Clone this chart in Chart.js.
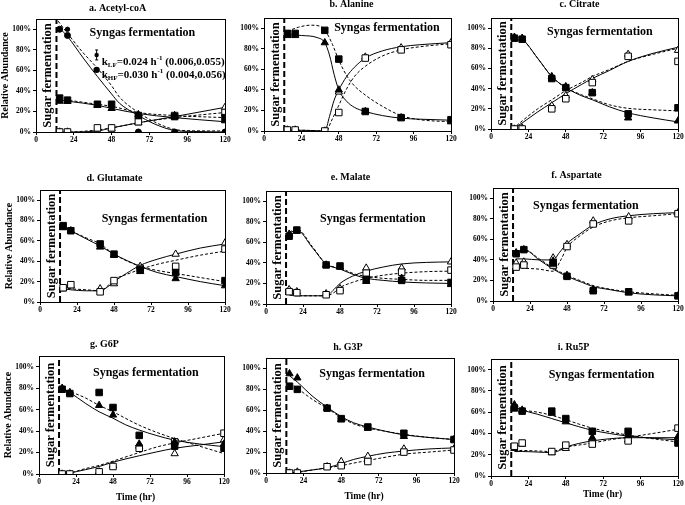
<!DOCTYPE html>
<html>
<head>
<meta charset="utf-8">
<script src="https://cdn.jsdelivr.net/npm/chart.js@4.4.1/dist/chart.umd.min.js"></script>
<style>
  html, body { margin: 0; padding: 0; background: #fff; }
  #fig { position: relative; width: 685px; height: 505px; overflow: hidden; }
  .panel { position: absolute; }
</style>
</head>
<body>
<div id="fig"></div>
<script>
// sampling times (hr) and axis ticks
const times = [15, 20, 39, 48, 65, 88, 120];
const xTicks = [0, 24, 48, 72, 96, 120];
const yTicks = [0, 20, 40, 60, 80, 100];
const switchTime = 13; // sugar -> syngas

// *Pts rows: filled squares, filled triangles, open squares, open triangles (%)
// *Fits rows: LF unlabeled (solid), HF unlabeled (dashed), LF labeled (solid), HF labeled (dashed)
const acetylPts = [
    [33, 31, 27, 27, 16, 15, 14],
    [30, 30, 26, 23, 17, 16, 11],
    [0, 0, 4, 4, 10, 16, 19],
    [0, 0, 3, 3, 9, 15, 24]
];
const acetylFits = [
    [[15, 31], [20, 30], [39, 26], [48, 23], [65, 18], [88, 14], [120, 10]],
    [[15, 32], [20, 31], [39, 27], [48, 25], [65, 19], [88, 16], [120, 14]],
    [[15, 0], [20, 0], [39, 1], [48, 4], [65, 9], [88, 15], [120, 24]],
    [[15, 0], [20, 0], [39, 2], [48, 4], [65, 9], [88, 14], [120, 19]]
];
// acetyl-coA M+0 pool: LF (small circles) and HF (large circles)
const acetylCircles = [
    [100, 100, null, null, 0, 0, 0],
    [100, 94, null, null, 0, 0, 0]
];
const acetylCircleFits = [
    [[15, 101], [20, 93], [30, 72], [39, 54], [48, 37], [53, 28], [64, 17], [75, 8], [88, 1.5], [100, 0.5], [120, 0]],
    [[14, 108], [20, 96], [30, 77], [39, 62], [48, 45], [53, 34], [64, 20], [75, 10], [88, 2.5], [100, 1.2], [120, 1]]
];
const rateNames = ['LF', 'HF'];
const rateValues = ['0.024', '0.030'];
const rateRanges = ['(0.006,0.055)', '(0.004,0.056)'];

const alaninePts = [
    [95, 95, 98, 70, 19, 13, 11],
    [93, 93, 86, 40, 19, 13, 9],
    [1, 1, 0, 18, 71, 79, 84],
    [1, 1, 0, 38, 72, 81, 86]
];
const alanineFits = [
    [[15, 94], [24, 93], [34, 91], [39, 86], [42, 74], [45, 55], [48, 40], [53, 29], [58, 23], [65, 19], [76, 15], [88, 12.5], [100, 11.5], [120, 10.5]],
    [[15, 97], [22, 101], [30, 103], [36, 102], [40, 96], [44, 84], [48, 69], [53, 54], [58, 44], [65, 35], [76, 24], [88, 15], [100, 11], [120, 9]],
    [[15, 1], [30, 0.5], [39, 0], [42, 14], [45, 30], [48, 40], [53, 53], [58, 62], [65, 71], [76, 78], [88, 82], [100, 84], [120, 86]],
    [[15, 1], [30, 0.5], [40, 0], [43, 9], [48, 25], [53, 41], [58, 53], [65, 63], [76, 73], [88, 79], [100, 82], [120, 85]]
];

const citratePts = [
    [90, 89, 50, 41, 36, 15, 21],
    [91, 90, 52, 42, 36, 11, 8],
    [0, 0, 20, 30, 46, 72, 67],
    [0, 1, 23, 33, 49, 74, 78]
];
const citrateFits = [
    [[15, 91], [20, 89], [30, 70], [39, 52], [48, 41], [58, 33], [65, 29], [76, 22], [88, 16], [104, 11], [120, 7]],
    [[15, 91], [20, 89], [30, 70], [39, 52], [48, 41], [58, 34], [65, 30], [76, 24], [88, 20.5], [104, 19], [120, 18]],
    [[14, 0], [20, 6], [30, 17], [39, 26], [48, 35], [58, 44], [65, 50], [76, 58], [88, 67], [104, 75], [120, 81]],
    [[14, 0], [20, 8], [30, 20], [39, 29], [48, 38], [58, 46], [65, 52], [76, 59], [88, 67], [104, 74], [120, 80]]
];

const glutamatePts = [
    [75, 70, 57, 47, 32, 29, 21],
    [73, 70, 54, 46, 30, 23, 16],
    [14, 17, 10, 21, 33, 35, 52],
    [13, 16, 13, 18, 35, 47, 58]
];
const glutamateFits = [
    [[15, 74], [20, 70], [30, 62], [39, 55], [48, 47], [65, 35], [76, 29], [88, 25], [104, 20], [120, 16]],
    [[15, 75], [20, 70], [30, 63], [39, 57], [48, 47], [65, 35], [76, 31], [88, 28], [104, 24], [120, 20]],
    [[15, 13], [20, 12], [30, 11], [39, 11], [44, 15], [48, 20], [56, 28], [65, 36], [76, 42], [88, 47], [104, 53], [120, 57]],
    [[15, 14], [20, 13], [30, 12], [39, 11], [44, 16], [48, 22], [56, 27], [65, 32], [76, 37], [88, 41], [104, 46], [120, 50]]
];

const malatePts = [
    [66, 72, 38, 37, 24, 23, 21],
    [68, 71, 38, 36, 22, 25, 19],
    [12, 11, 9, 13, 30, 31, 33],
    [14, 12, 10, 15, 35, 35, 41]
];
const malateFits = [
    [[15, 69], [20, 72], [30, 55], [39, 39], [48, 34], [58, 28], [65, 25], [76, 23], [88, 21.5], [104, 20.5], [120, 20]],
    [[15, 70], [20, 73], [30, 56], [39, 39], [48, 35], [58, 29], [65, 27], [76, 25], [88, 24], [104, 23], [120, 23]],
    [[15, 9], [20, 8], [30, 8], [39, 8], [44, 14], [48, 20], [56, 27], [65, 32], [76, 36], [88, 39], [104, 40.5], [120, 41]],
    [[15, 9], [20, 8], [30, 8], [39, 8], [44, 11], [48, 16], [56, 21], [65, 25], [76, 28], [88, 30], [104, 31.5], [120, 32]]
];

const aspartatePts = [
    [46, 50, 37, 24, 10, 9, 5],
    [47, 50, 39, 25, 11, 8, 5],
    [33, 35, 35, 53, 75, 78, 85],
    [37, 38, 42, 55, 78, 82, 86]
];
const aspartateFits = [
    [[15, 47], [20, 50], [30, 40], [39, 31], [48, 24], [58, 18], [65, 14], [76, 11], [88, 8], [104, 6], [120, 5]],
    [[15, 48], [20, 50], [30, 41], [39, 32], [48, 25], [58, 19], [65, 15], [76, 11.5], [88, 9], [104, 7], [120, 5.5]],
    [[15, 41], [20, 41], [30, 40], [39, 40], [43, 47], [48, 56], [56, 65], [65, 74], [76, 80], [88, 83], [104, 85], [120, 86]],
    [[15, 33], [20, 32], [30, 31], [39, 29], [44, 40], [48, 52], [56, 63], [65, 72], [76, 78], [88, 81], [104, 83], [120, 85]]
];

const g6pPts = [
    [79, 75, 76, 62, 36, 26, 24],
    [80, 76, 64, 55, 28, 30, 28],
    [0, 0, 2, 7, 24, 30, 38],
    [0, 0, 2, 8, 26, 19, 32]
];
const g6pFits = [
    [[15, 80], [20, 76], [30, 66], [39, 58], [48, 52], [56, 46], [65, 41], [76, 36], [88, 31.5], [104, 28], [120, 25.5]],
    [[15, 80], [20, 77], [30, 71], [39, 64], [48, 58], [56, 52], [65, 45.5], [76, 39], [88, 33], [104, 26], [120, 19]],
    [[15, 0], [20, 1], [30, 4], [39, 7], [48, 11], [65, 17], [76, 20.5], [88, 24], [104, 27], [120, 30]],
    [[15, 0], [20, 1], [30, 5], [39, 8], [48, 12], [65, 20], [76, 25], [88, 29], [104, 33.5], [120, 38]]
];

const g3pPts = [
    [83, 80, 62, 52, 44, 38, 32],
    [95, 91, 62, 51, 43, 35, 32],
    [0, 0, 6, 7, 11, 20, 22],
    [0, 1, 6, 11, 16, 23, 23]
];
const g3pFits = [
    [[15, 93], [20, 87], [30, 73], [39, 63], [48, 54], [56, 48], [65, 44], [76, 40], [88, 36.5], [104, 34], [120, 32]],
    [[15, 86], [20, 81], [30, 70], [39, 62], [48, 53], [56, 47], [65, 43], [76, 40], [88, 37], [104, 34], [120, 32]],
    [[15, 0], [20, 1], [30, 3], [39, 5], [48, 9], [56, 13], [65, 16], [76, 19], [88, 21], [104, 23], [120, 24]],
    [[15, 0], [20, 0.5], [30, 3], [39, 5], [48, 7], [56, 9.5], [65, 12], [76, 15], [88, 18], [104, 20], [120, 22]]
];

const ru5pPts = [
    [64, 61, 61, 54, 42, 42, 31],
    [67, 62, 59, 51, 36, 38, 37],
    [28, 31, 23, 29, 30, 33, 45],
    [26, 30, 22, 26, 35, 34, 33]
];
const ru5pFits = [
    [[15, 65], [20, 62], [30, 58], [39, 54], [48, 50], [56, 46.5], [65, 43], [76, 40], [88, 37.5], [104, 35.5], [120, 34]],
    [[15, 64], [20, 62], [30, 60], [39, 57], [48, 53], [56, 49], [65, 45], [76, 41.5], [88, 38.5], [104, 35], [120, 32]],
    [[15, 23], [20, 23], [30, 22.5], [39, 22], [44, 24], [48, 27], [56, 30.5], [65, 33], [76, 35], [88, 36], [104, 36], [120, 36]],
    [[15, 24], [20, 24], [30, 23.5], [39, 23], [44, 25], [48, 27], [56, 29], [65, 31], [76, 34], [88, 36.5], [104, 40], [120, 44]]
];

const serif = "'Liberation Serif', 'Times New Roman', serif";

// layout of the 3x3 grid: plot area [left, top, right, bottom] in page pixels
const panels = [
    { title: 'a. Acetyl-coA', pts: acetylPts, fits: acetylFits, area: [36, 19, 225, 132], titleDx: -13, titleDy: 11, syn: [34, 96], yTitle: true, rates: true },
    { title: 'b. Alanine', pts: alaninePts, fits: alanineFits, area: [264, 18, 451, 131], titleDx: -6, titleDy: 14, syn: [45, 100] },
    { title: 'c. Citrate', pts: citratePts, fits: citrateFits, area: [491, 18, 678, 129], titleDx: -5, titleDy: 14, syn: [36, 96] },
    { title: 'd. Glutamate', pts: glutamatePts, fits: glutamateFits, area: [40, 190, 225, 302], titleDx: -18, titleDy: 12, syn: [40, 82], yTitle: true },
    { title: 'e. Malate', pts: malatePts, fits: malateFits, area: [266, 191, 451, 304], titleDx: -8, titleDy: 14, syn: [35, 83] },
    { title: 'f. Aspartate', pts: aspartatePts, fits: aspartateFits, area: [493, 188, 678, 301], titleDx: -9, titleDy: 13, syn: [26, 93] },
    { title: 'g. G6P', pts: g6pPts, fits: g6pFits, area: [39, 356, 224, 474], titleDx: -27, titleDy: 12, syn: [35, 94], yTitle: true, xTitle: [4, 24] },
    { title: 'h. G3P', pts: g3pPts, fits: g3pFits, area: [266, 358, 454, 473], titleDx: -12, titleDy: 11, syn: [34, 94.5], xTitle: [4, 24] },
    { title: 'i. Ru5P', pts: ru5pPts, fits: ru5pFits, area: [491, 359, 678, 476], titleDx: -11, titleDy: 12, syn: [37, 95], xTitle: [18, 19] }
];

const markerStyles = [
    { pointStyle: 'rect', radius: 4.6, fill: '#000' },
    { pointStyle: 'triangle', radius: 4.2, fill: '#000' },
    { pointStyle: 'rect', radius: 4.6, fill: '#fff' },
    { pointStyle: 'triangle', radius: 4.2, fill: '#fff' }
];

function markerSet(row, style, radius, fill) {
    return {
        data: times.map((t, j) => ({ x: t, y: row[j] })).filter(d => d.y !== null),
        showLine: false,
        pointStyle: style,
        pointRadius: radius,
        backgroundColor: fill,
        borderColor: '#000',
        borderWidth: 1
    };
}

function fitSet(curve, dashed) {
    return {
        data: curve.map(([x, y]) => ({ x, y })),
        showLine: true,
        pointRadius: 0,
        borderColor: '#000',
        borderWidth: 1,
        borderDash: dashed ? [3, 2] : [],
        cubicInterpolationMode: 'monotone'
    };
}

function buildDatasets(p) {
    const ds = [];
    p.pts.forEach((row, i) => {
        const m = markerStyles[i];
        ds.push(markerSet(row, m.pointStyle, m.radius, m.fill));
    });
    if (p.rates) {
        ds.push(markerSet(acetylCircles[0], 'circle', 2.2, '#000'));
        ds.push(markerSet(acetylCircles[1], 'circle', 3, '#000'));
        acetylCircleFits.forEach((c, i) => ds.push(fitSet(c, i % 2 === 1)));
    }
    p.fits.forEach((c, i) => ds.push(fitSet(c, i % 2 === 1)));
    // sugar -> syngas switch
    ds.push({
        data: [{ x: switchTime, y: 0 }, { x: switchTime, y: 110 }],
        showLine: true,
        pointRadius: 0,
        borderColor: '#000',
        borderWidth: 2,
        borderDash: [6, 3]
    });
    return ds;
}

// draws a run of text pieces with sub/superscripts
function drawRich(ctx, parts, x, y) {
    parts.forEach(([text, size, dy]) => {
        ctx.font = 'bold ' + size + 'px ' + serif;
        ctx.fillText(text, x, y + dy);
        x += ctx.measureText(text).width;
    });
}

const panelText = {
    id: 'panelText',
    afterDatasetsDraw(chart, args, o) {
        const { ctx, chartArea: a, scales: { x, y } } = chart;
        const midX = (a.left + a.right) / 2;
        const midY = (a.top + a.bottom) / 2;
        ctx.save();
        ctx.strokeStyle = '#000';
        ctx.lineWidth = 1;
        ctx.strokeRect(a.left + 0.5, a.top + 0.5, a.right - a.left, a.bottom - a.top);

        ctx.fillStyle = '#000';
        ctx.textBaseline = 'middle';
        ctx.textAlign = 'center';
        ctx.font = 'bold 10px ' + serif;
        ctx.fillText(o.title, midX + o.titleDx, a.top - o.titleDy);

        ctx.textAlign = 'left';
        ctx.font = 'bold 12px ' + serif;
        ctx.fillText('Syngas fermentation', x.getPixelForValue(o.syn[0]), y.getPixelForValue(o.syn[1]));

        ctx.save();
        ctx.translate(x.getPixelForValue(7.5), midY);
        ctx.rotate(-Math.PI / 2);
        ctx.textAlign = 'center';
        ctx.font = 'bold 12.5px ' + serif;
        ctx.fillText('Sugar fermentation', 0, 0);
        ctx.restore();

        if (o.yTitle) {
            ctx.save();
            ctx.translate(a.left - 31, midY);
            ctx.rotate(-Math.PI / 2);
            ctx.textAlign = 'center';
            ctx.font = 'bold 10px ' + serif;
            ctx.fillText('Relative Abundance', 0, 0);
            ctx.restore();
        }
        if (o.xTitle) {
            ctx.textAlign = 'center';
            ctx.font = 'bold 9.5px ' + serif;
            ctx.fillText('Time (hr)', midX + o.xTitle[0], a.bottom + o.xTitle[1]);
        }
        if (o.rates) {
            ctx.textAlign = 'left';
            rateNames.forEach((name, i) => {
                const ty = y.getPixelForValue(i === 0 ? 68 : 55);
                drawRich(ctx, [
                    ['k', 11, 0], [name, 7, 3], ['=' + rateValues[i] + ' h', 11, 0], ['-1', 7, -4], [' ' + rateRanges[i], 11, 0]
                ], x.getPixelForValue(41.7), ty);
                // legend marker
                const mx = x.getPixelForValue(38.5);
                const my = y.getPixelForValue(i === 0 ? 75 : 60.5);
                ctx.beginPath();
                ctx.arc(mx, my, i === 0 ? 2.2 : 3.2, 0, Math.PI * 2);
                ctx.fill();
                if (i === 0) {
                    ctx.beginPath();
                    ctx.moveTo(mx, my - 5); ctx.lineTo(mx, my + 5);
                    ctx.moveTo(mx - 1.5, my - 5); ctx.lineTo(mx + 1.5, my - 5);
                    ctx.moveTo(mx - 1.5, my + 5); ctx.lineTo(mx + 1.5, my + 5);
                    ctx.stroke();
                }
            });
        }
        ctx.restore();
    }
};

const tickFont = { family: serif, size: 7.5, weight: 'bold' };
const fig = document.getElementById('fig');

panels.forEach(p => {
    const [l, t, r, b] = p.area;
    const w = r - l + 36 + 8;
    const h = b - t + 19 + 30;
    const div = document.createElement('div');
    div.className = 'panel';
    div.style.left = (l - 36) + 'px';
    div.style.top = (t - 19) + 'px';
    const canvas = document.createElement('canvas');
    canvas.width = w;
    canvas.height = h;
    div.appendChild(canvas);
    fig.appendChild(div);

    new Chart(canvas.getContext('2d'), {
        type: 'scatter',
        data: { datasets: buildDatasets(p) },
        options: {
            responsive: false,
            animation: false,
            layout: { padding: { top: 19, right: 8, bottom: 16, left: 0 } },
            scales: {
                x: {
                    type: 'linear',
                    min: 0,
                    max: 120,
                    afterBuildTicks: s => { s.ticks = xTicks.map(v => ({ value: v })); },
                    afterFit: s => { s.height = 14; },
                    ticks: { font: tickFont, color: '#000', padding: 1, maxRotation: 0 },
                    grid: { drawOnChartArea: false, tickLength: 3, color: '#000' },
                    border: { color: '#000' }
                },
                y: {
                    min: 0,
                    max: 110,
                    afterBuildTicks: s => { s.ticks = yTicks.map(v => ({ value: v })); },
                    afterFit: s => { s.width = 36; },
                    ticks: { font: tickFont, color: '#000', padding: 2, callback: v => v + '%' },
                    grid: { drawOnChartArea: false, tickLength: 3, color: '#000' },
                    border: { color: '#000' }
                }
            },
            plugins: {
                legend: { display: false },
                tooltip: { enabled: false },
                panelText: p
            }
        },
        plugins: [panelText]
    });
});
</script>
</body>
</html>
